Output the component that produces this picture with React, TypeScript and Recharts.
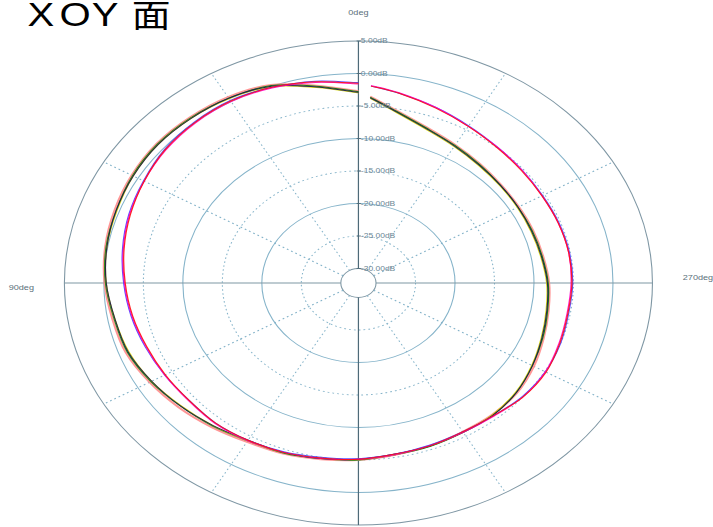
import { RadarChart, Radar, PolarGrid, PolarAngleAxis, PolarRadiusAxis } from 'recharts';

// the source picture is stretched horizontally, so everything is drawn in a
// narrower frame and scaled in x
const SX = 1.215;
const W = 587;
const H = 527;
const INNER = 14.5;
const OUTER = 242;
const DB_MIN = -30;
const DB_MAX = 5;

const angles = [0, 10, 20, 30, 40, 50, 60, 70, 80, 90, 100, 110, 120, 130, 140, 150, 160, 170, 180, 190, 200, 210, 220, 230, 240, 250, 260, 270, 280, 290, 300, 310, 320, 330, 340, 350, 357];

// group that is outer on the right side
const redP = [-1.5, -0.8, -0.2, 0.1, 0.0, -0.3, -0.9, -1.5, -2.1, -2.7, -3.2, -3.7, -4.0, -4.2, -4.1, -4.3, -4.5, -4.9, -5.1, -5.5, -5.6, -5.8, -5.6, -5.0, -4.8, -5.1, -5.3, -5.2, -5.2, -5.3, -5.4, -5.3, -5.0, -4.4, -3.6, -2.6, -1.9];
const magentaP = [-1.6, -0.9, -0.3, 0.0, -0.1, -0.4, -0.9, -1.4, -2.0, -2.6, -3.1, -3.6, -3.9, -4.1, -4.0, -4.2, -4.5, -4.8, -5.1, -5.4, -5.6, -5.7, -5.5, -5.0, -4.9, -5.2, -5.4, -5.3, -5.2, -5.3, -5.4, -5.2, -4.9, -4.4, -3.5, -2.5, -1.8];
const purpleP = [-1.4, -0.7, -0.2, 0.2, 0.1, -0.2, -0.8, -1.3, -1.9, -2.5, -3.0, -3.5, -3.9, -4.2, -4.1, -4.3, -4.6, -5.0, -5.2, -5.5, -5.7, -5.8, -5.6, -5.1, -4.9, -5.0, -5.2, -5.1, -5.1, -5.2, -5.3, -5.2, -4.9, -4.3, -3.5, -2.6, -1.9];

// group that is outer on the left side
const blackQ = [-2.9, -1.6, 0.0, 0.6, 0.8, 0.9, 0.7, 0.4, 0.1, -0.3, -0.9, -1.2, -2.0, -2.8, -3.6, -4.3, -4.5, -4.8, -5.1, -5.5, -5.6, -5.7, -5.7, -6.1, -6.8, -7.5, -8.0, -8.3, -8.7, -8.9, -8.9, -8.8, -8.5, -7.9, -7.0, -5.4, -3.7];
const yellowQ = [-3.0, -1.7, -0.1, 0.5, 0.8, 0.9, 0.7, 0.3, 0.1, -0.3, -0.9, -1.3, -2.0, -2.9, -3.6, -4.2, -4.5, -4.9, -5.1, -5.4, -5.6, -5.7, -5.8, -6.2, -6.9, -7.6, -8.1, -8.4, -8.8, -9.0, -9.0, -8.9, -8.6, -8.0, -7.1, -5.5, -3.8];
const greenQ = [-2.8, -1.5, 0.1, 0.6, 0.9, 1.0, 0.8, 0.4, 0.2, -0.2, -0.8, -1.1, -1.9, -2.8, -3.5, -4.2, -4.4, -4.8, -5.0, -5.4, -5.5, -5.7, -5.7, -6.1, -6.8, -7.4, -7.9, -8.2, -8.6, -8.8, -8.9, -8.8, -8.4, -7.8, -6.9, -5.3, -3.6];
const lightRedQ = [-2.7, -1.4, 0.2, 0.8, 1.0, 1.1, 0.9, 0.6, 0.3, -0.1, -0.6, -0.9, -1.7, -2.5, -3.3, -4.0, -4.3, -4.7, -5.0, -5.4, -5.6, -5.8, -5.8, -6.0, -6.6, -7.3, -7.8, -8.1, -8.5, -8.7, -8.8, -8.7, -8.3, -7.7, -6.8, -5.2, -3.5];

const dbTicks = [-30, -25, -20, -15, -10, -5, 0, 5];
const solidRings = [-20, -10, 0];
const dottedRings = [-25, -15, -5];
const darkRings = [-30, 5];
const angleTicks = [0, 90, 180, 270];
const shownAngleLabels = [0, 90, 270];

const titleChars = ['X', 'O', 'Y', '面'];

const series = [
  { key: 'lightRed', color: '#ff8c8c', width: 2 },
  { key: 'green', color: '#008a00', width: 1 },
  { key: 'yellow', color: '#d8d800', width: 1 },
  { key: 'black', color: '#16164a', width: 1 },
  { key: 'purple', color: '#4a3cff', width: 1 },
  { key: 'magenta', color: '#ff00c8', width: 1 },
  { key: 'red', color: '#ff1010', width: 1 },
];

const data = angles.map((a, i) => ({
  angle: a,
  red: redP[i],
  magenta: magentaP[i],
  purple: purpleP[i],
  black: blackQ[i],
  yellow: yellowQ[i],
  green: greenQ[i],
  lightRed: lightRedQ[i],
}));

const FONT = '"Liberation Sans", Arial, sans-serif';

// same linear mapping as the radius axis (domain -> [innerRadius, outerRadius])
const ringRadius = (db: number) => INNER + ((db - DB_MIN) / (DB_MAX - DB_MIN)) * (OUTER - INNER);

// open smooth curve: the measurement is not closed between 357 and 0 deg
const openCurve = (color: string, width: number) => (props: any) => {
  const pts = props.points || [];
  if (pts.length < 2) return <g />;
  let d = `M${pts[0].x},${pts[0].y}`;
  for (let i = 0; i < pts.length - 1; i++) {
    const p0 = pts[Math.max(i - 1, 0)];
    const p1 = pts[i];
    const p2 = pts[i + 1];
    const p3 = pts[Math.min(i + 2, pts.length - 1)];
    const c1x = p1.x + (p2.x - p0.x) / 6;
    const c1y = p1.y + (p2.y - p0.y) / 6;
    const c2x = p2.x - (p3.x - p1.x) / 6;
    const c2y = p2.y - (p3.y - p1.y) / 6;
    d += ` C${c1x},${c1y} ${c2x},${c2y} ${p2.x},${p2.y}`;
  }
  return <path d={d} fill="none" stroke={color} strokeWidth={width} strokeOpacity={0.9} />;
};

const RadiusTick = (props: any) => {
  const { x, y, payload } = props;
  return (
    <g>
      <line x1={x - 1.5} y1={y} x2={x + 2} y2={y} stroke="#4e6a78" strokeWidth={0.8} />
      <text x={x + 2} y={y} dy="0.35em" fontSize={7} fill="#6a8594" fontFamily={FONT}>
        {`${Number(payload.value).toFixed(2)}dB`}
      </text>
    </g>
  );
};

const AngleTick = (props: any) => {
  const { x, y, payload } = props;
  const v = Number(payload.value);
  if (!shownAngleLabels.includes(v)) return <g />;
  const anchor = v === 90 ? 'end' : v === 270 ? 'start' : 'middle';
  const dy = v === 0 ? -4 : v === 90 ? 4 : -6;
  return (
    <text x={x} y={y + dy} dy="0.35em" textAnchor={anchor} fontSize={7.5} fill="#5b6f7a" fontFamily={FONT}>
      {`${v}deg`}
    </text>
  );
};

export default function App() {
  return (
    <div style={{ position: 'absolute', left: 0, top: 0, width: 713, height: H, overflow: 'hidden', background: '#fff' }}>
      <div style={{ position: 'absolute', left: 0, top: 0, width: W, height: H, transform: `scaleX(${SX})`, transformOrigin: '0 0' }}>
        <RadarChart
          width={W}
          height={H}
          cx={295}
          cy={283}
          innerRadius={INNER}
          outerRadius={OUTER}
          startAngle={90}
          endAngle={450}
          data={data}
          margin={{ top: 0, right: 0, bottom: 0, left: 0 }}
        >
          <PolarGrid gridType="circle" radialLines={false} polarAngles={[]} polarRadius={solidRings.map(ringRadius)} stroke="#86b4ca" strokeWidth={0.9} />
          <PolarGrid gridType="circle" radialLines={false} polarAngles={[]} polarRadius={dottedRings.map(ringRadius)} stroke="#86b4ca" strokeWidth={0.9} strokeDasharray="1.5 2.5" />
          <PolarGrid gridType="circle" radialLines={false} polarAngles={[]} polarRadius={darkRings.map(ringRadius)} stroke="#7f97a4" strokeWidth={0.9} />
          <PolarGrid polarAngles={[30, 60, 120, 150, 210, 240, 300, 330]} polarRadius={[]} stroke="#86b4ca" strokeWidth={0.9} strokeDasharray="1.5 2.5" />
          <PolarGrid polarAngles={[0, 180]} polarRadius={[]} stroke="#7f97a4" strokeWidth={0.9} />
          <PolarGrid polarAngles={[90, 270]} polarRadius={[]} stroke="#4e6a78" strokeWidth={1} />
          <PolarAngleAxis
            dataKey="angle"
            type="number"
            domain={[0, 360]}
            ticks={angleTicks as any}
            tickCount={5}
            tickSize={25}
            tick={<AngleTick />}
            tickLine={false}
            axisLine={false}
          />
          <PolarRadiusAxis angle={90} type="number" domain={[DB_MIN, DB_MAX]} ticks={dbTicks as any} tickCount={8} tick={<RadiusTick />} axisLine={false} />
          {series.map((s) => (
            <Radar
              key={s.key}
              dataKey={s.key}
              stroke={s.color}
              fill="none"
              dot={false}
              isAnimationActive={false}
              shape={openCurve(s.color, s.width)}
            />
          ))}
        </RadarChart>
        <svg width={220} height={40} style={{ position: 'absolute', left: 0, top: 0 }}>
          <text y={26} fontSize={33} fill="#000" fontFamily={'"Liberation Sans", "Noto Sans CJK SC", sans-serif'}>
            <tspan x={22.7}>{titleChars[0]}</tspan>
            <tspan x={49}>{titleChars[1]}</tspan>
            <tspan x={75.5}>{titleChars[2]}</tspan>
            <tspan x={108.5} y={27} fontSize={32} fontFamily='"Noto Sans CJK SC", sans-serif'>{titleChars[3]}</tspan>
          </text>
        </svg>
      </div>
    </div>
  );
}
